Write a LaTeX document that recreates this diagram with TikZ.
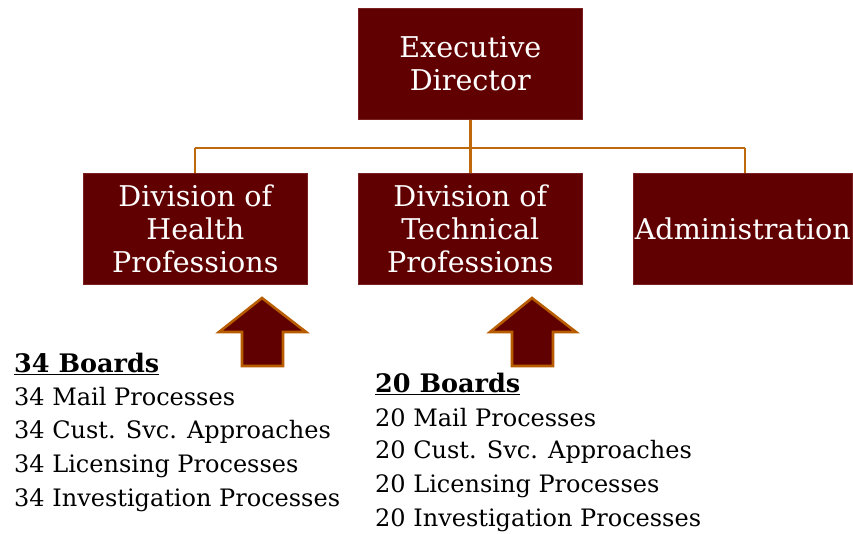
\documentclass[tikz,border=0pt]{standalone}
\usepackage{fontspec}
\setmainfont{DejaVu Serif}
\begin{document}
\begin{tikzpicture}[x=1pt,y=-1pt,
  box/.style={fill=maroon,draw=maroonedge,line width=0.6pt,text=white,
    minimum width=224pt,minimum height=111pt,inner sep=0pt,align=center,
    font=\fontsize{28.6}{33}\selectfont,anchor=north west},
  conn/.style={draw=orangeline,line width=2.6pt},
  uparrow/.style={fill=maroon,draw=arrowedge,line width=2.6pt,line join=miter},
  txt/.style={anchor=base west,inner sep=0pt,font=\fontsize{24}{28}\selectfont},
  head/.style={txt,font=\fontsize{25.5}{28}\selectfont\bfseries}]
\definecolor{maroon}{HTML}{600000}
\definecolor{maroonedge}{HTML}{7A2020}
\definecolor{orangeline}{HTML}{C0680C}
\definecolor{arrowedge}{HTML}{B85C00}
\useasboundingbox (0,0) rectangle (853,533);
% boxes
\node[box] (ed) at (358,8) {Executive\\Director};
\node[box] (dh) at (83,173) {Division of\\Health\\Professions};
\node[box] (dt) at (358,173) {Division of\\Technical\\Professions};
\node[box,minimum width=219pt] (ad) at (633,173) {Administration};
% connectors
\coordinate (busL) at (195,148);
\coordinate (busR) at (745,148);
\draw[conn] (busL) -- (busR);
\draw[conn] (ed.south) -- (ed.south |- busL);
\draw[conn] (busL) -- (busL |- dh.north);
\draw[conn] (ed.south |- busL) -- (dt.north);
\draw[conn] (busR) -- (busR |- ad.north);
% up arrows
\draw[uparrow] (262,298) -- (306,332) -- (283,332) -- (283,366) -- (242,366) -- (242,332) -- (219,332) -- cycle;
\draw[uparrow] (532,298) -- (576,332) -- (553,332) -- (553,366) -- (512,366) -- (512,332) -- (490,332) -- cycle;
% left text
\node[head] (l0) at (14,372) {\underline{34 Boards}};
\node[txt] (l1) at (14,405) {34 Mail Processes};
\node[txt] (l2) at (14,438.5) {34 Cust. Svc. Approaches};
\node[txt] (l3) at (14,472) {34 Licensing Processes};
\node[txt] (l4) at (14,506) {34 Investigation Processes};
% right text
\node[head] (r0) at (375,392) {\underline{20 Boards}};
\node[txt] (r1) at (375,426) {20 Mail Processes};
\node[txt] (r2) at (375,458.5) {20 Cust. Svc. Approaches};
\node[txt] (r3) at (375,492) {20 Licensing Processes};
\node[txt] (r4) at (375,526) {20 Investigation Processes};
\end{tikzpicture}
\end{document}
